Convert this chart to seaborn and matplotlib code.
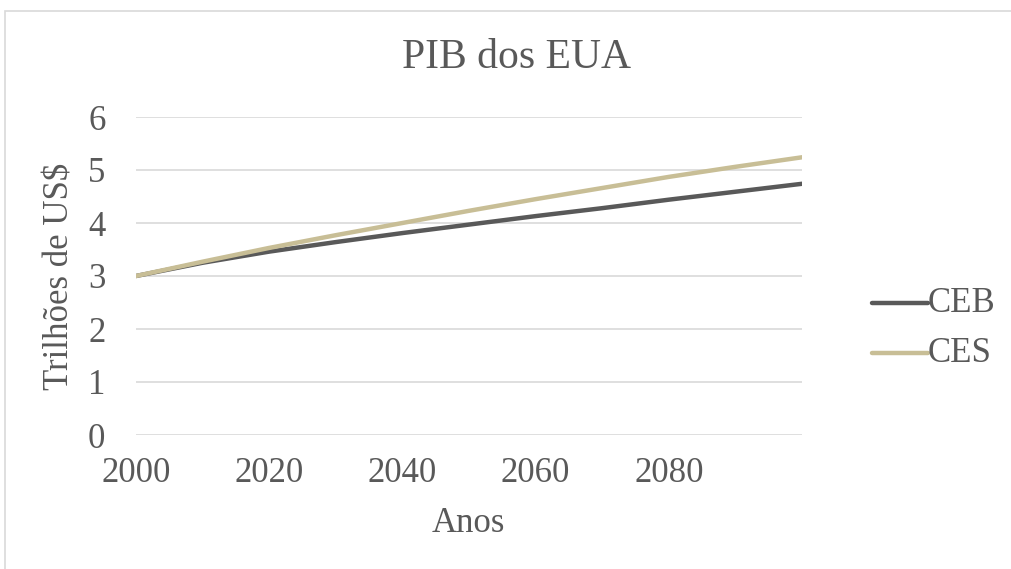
import matplotlib
matplotlib.use("Agg")
import matplotlib.pyplot as plt
import seaborn as sns
import pandas as pd
from matplotlib.patches import Rectangle

years = [2000, 2010, 2020, 2030, 2040, 2050, 2060, 2070, 2080, 2090, 2100]
ceb = [3.00, 3.25, 3.46, 3.64, 3.81, 3.97, 4.13, 4.28, 4.44, 4.59, 4.74]
ces = [3.00, 3.27, 3.53, 3.77, 4.00, 4.23, 4.45, 4.66, 4.87, 5.06, 5.24]
series_names = ["CEB", "CES"]
colors = ["#595959", "#C8BE96"]
x_ticks = [2000, 2020, 2040, 2060, 2080]
y_ticks = [0, 1, 2, 3, 4, 5, 6]

df = pd.DataFrame({
    "Ano": years * 2,
    "Valor": ceb + ces,
    "Serie": [series_names[0]] * len(years) + [series_names[1]] * len(years),
})

sns.set_theme(style="white")
plt.rcParams["font.family"] = ["Liberation Serif", "DejaVu Serif"]
txt = "#595959"
fs = 25

fig = plt.figure(figsize=(10.12, 5.69), dpi=100)
ax = fig.add_axes([136 / 1012, 1 - 435 / 569, (802 - 136) / 1012, (435 - 117) / 569])

sns.lineplot(data=df, x="Ano", y="Valor", hue="Serie", palette=colors,
             linewidth=3.2, ax=ax, legend=False, solid_capstyle="round")

ax.set_xlim(2000, 2100)
ax.set_ylim(0, 6)
ax.set_xticks(x_ticks)
ax.set_yticks(y_ticks)
ax.set_xticklabels([str(t) for t in x_ticks], fontsize=fs, color=txt)
ax.set_yticklabels([str(t) for t in y_ticks], fontsize=fs, color=txt)
ax.tick_params(axis="both", length=0)
ax.tick_params(axis="x", pad=16)
ax.tick_params(axis="y", pad=22)
ax.grid(axis="y", color="#D9D9D9", linewidth=1.2)
ax.set_axisbelow(True)
for s in ax.spines.values():
    s.set_visible(False)

ax.set_xlabel("")
ax.set_ylabel("")
fig.text(468 / 1012, 1 - 524 / 569, "Anos", fontsize=fs, color=txt, ha="center", va="center")
fig.text(60 / 1012, 1 - 276 / 569, "Trilhões de US$", fontsize=fs, color=txt,
         ha="center", va="center", rotation=90)
fig.text(516 / 1012, 1 - 58 / 569, "PIB dos EUA", fontsize=30, color=txt, ha="center", va="center")

# legend drawn manually in figure coords
for i, (name, c) in enumerate(zip(series_names, colors)):
    yy = 1 - (303 + 50 * i) / 569
    fig.add_artist(plt.Line2D([872 / 1012, 928 / 1012], [yy, yy], color=c, linewidth=3.2,
                              solid_capstyle="round", transform=fig.transFigure))
    fig.text(928 / 1012, yy, name, fontsize=fs, color=txt, ha="left", va="center")

fig.add_artist(Rectangle((4.5 / 1012, -0.1), 1.2, 1 - 11.5 / 569 + 0.1, transform=fig.transFigure,
                         fill=False, edgecolor="#D9D9D9", linewidth=1.2))

fig.savefig("out.png", dpi=100)
